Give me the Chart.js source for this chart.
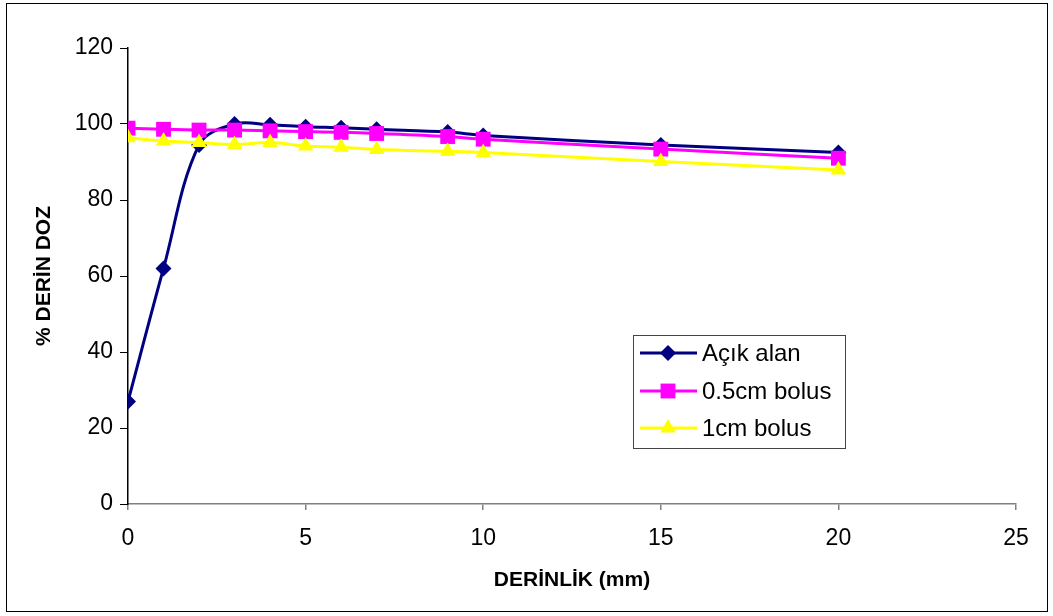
<!DOCTYPE html>
<html>
<head>
<meta charset="utf-8">
<script src="https://cdn.jsdelivr.net/npm/chart.js@4"></script>
<style>
  html, body { margin: 0; padding: 0; background: #fff; }
  #wrap { width: 1053px; height: 616px; }
</style>
</head>
<body>
<div id="wrap"><canvas id="doseChart" width="1053" height="616"></canvas></div>
<script>
// === DATA ===
const depth = [0, 1, 2, 3, 4, 5, 6, 7, 9, 10, 15, 20];
const openField = [27, 62, 94.5, 100, 99.8, 99.3, 99, 98.6, 97.9, 97, 94.5, 92.5];
const bolus05 = [98.9, 98.6, 98.4, 98.4, 98.2, 98, 97.8, 97.5, 96.7, 96, 93.4, 91];
const bolus1 = [96.4, 95.5, 95.1, 94.6, 95.1, 94.2, 93.9, 93.3, 92.8, 92.5, 90.1, 87.9];
const seriesNames = ['Açık alan', '0.5cm bolus', '1cm bolus'];
const xTicks = [0, 5, 10, 15, 20, 25];
const yTicks = [0, 20, 40, 60, 80, 100, 120];

Chart.defaults.font.family = "'Liberation Sans', Arial, sans-serif";
Chart.defaults.color = '#000';

const toPoints = (vals) => vals.map((v, i) => ({ x: depth[i], y: v }));

// === MARKER DRAWING (legend) ===
function drawMarker(ctx, style, r, x, y, color) {
  ctx.fillStyle = color;
  ctx.beginPath();
  if (style === 'rectRot') {
    ctx.moveTo(x, y - r); ctx.lineTo(x + r, y); ctx.lineTo(x, y + r); ctx.lineTo(x - r, y);
  } else if (style === 'rect') {
    const s = r / Math.SQRT2;
    ctx.rect(x - s, y - s, 2 * s, 2 * s);
  } else {
    ctx.moveTo(x, y - r);
    ctx.lineTo(x + r * Math.sin(Math.PI / 3), y + r / 2);
    ctx.lineTo(x - r * Math.sin(Math.PI / 3), y + r / 2);
  }
  ctx.closePath();
  ctx.fill();
}

const frameAndLegend = {
  id: 'frameAndLegend',
  afterDraw(chart) {
    const ctx = chart.ctx;
    ctx.save();
    // outer frame
    ctx.strokeStyle = '#000';
    ctx.lineWidth = 1;
    ctx.strokeRect(6.5, 3.5, 1041, 608);
    // legend box
    ctx.fillStyle = '#fff';
    ctx.fillRect(633, 335, 212, 113);
    ctx.strokeStyle = '#444';
    ctx.strokeRect(633.5, 335.5, 212, 113);
    const rows = [353, 391, 428];
    chart.data.datasets.forEach((ds, i) => {
      const y = rows[i];
      ctx.strokeStyle = ds.borderColor;
      ctx.lineWidth = 3;
      ctx.beginPath();
      ctx.moveTo(640, y);
      ctx.lineTo(697, y);
      ctx.stroke();
      drawMarker(ctx, ds.pointStyle, ds.pointRadius, 668, y, ds.pointBackgroundColor);
      ctx.fillStyle = '#000';
      ctx.font = "24px 'Liberation Sans', Arial, sans-serif";
      ctx.textBaseline = 'middle';
      ctx.textAlign = 'left';
      ctx.fillText(seriesNames[i], 702, y + 1);
    });
    ctx.restore();
  }
};

// === CHART ===
const ctx = document.getElementById('doseChart');
new Chart(ctx, {
  type: 'scatter',
  data: {
    datasets: [{
      label: seriesNames[0],
      data: toPoints(openField),
      showLine: true,
      borderColor: '#000080',
      pointBackgroundColor: '#000080',
      pointBorderWidth: 0,
      borderWidth: 3,
      pointStyle: 'rectRot',
      pointRadius: 8,
      tension: 0.35,
      order: 3
    }, {
      label: seriesNames[1],
      data: toPoints(bolus05),
      showLine: true,
      borderColor: '#ff00ff',
      pointBackgroundColor: '#ff00ff',
      pointBorderWidth: 0,
      borderWidth: 3,
      pointStyle: 'rect',
      pointRadius: 10.5,
      tension: 0.35,
      order: 2
    }, {
      label: seriesNames[2],
      data: toPoints(bolus1),
      showLine: true,
      borderColor: '#ffff00',
      pointBackgroundColor: '#ffff00',
      pointBorderWidth: 0,
      borderWidth: 3,
      pointStyle: 'triangle',
      pointRadius: 9,
      tension: 0.35,
      order: 1
    }]
  },
  options: {
    responsive: false,
    animation: false,
    layout: { padding: { top: 48, right: 37, left: 0, bottom: 0 } },
    plugins: { legend: { display: false }, tooltip: { enabled: false } },
    scales: {
      x: {
        type: 'linear',
        min: 0,
        max: 25,
        afterBuildTicks: (s) => { s.ticks = xTicks.map(v => ({ value: v })); },
        afterFit: (s) => { s.height = 112; },
        grid: { drawOnChartArea: false, tickLength: 6, color: '#808080', lineWidth: 1.5 },
        border: { color: '#808080', width: 1.5 },
        ticks: { font: { size: 23 }, padding: 15, maxRotation: 0 },
        title: {
          display: true,
          text: 'DERİNLİK (mm)',
          font: { size: 21, weight: 'bold' },
          padding: { top: 0, bottom: 23 }
        }
      },
      y: {
        min: 0,
        max: 120,
        afterBuildTicks: (s) => { s.ticks = yTicks.map(v => ({ value: v })); },
        afterFit: (s) => { s.width = 128; },
        grid: { drawOnChartArea: false, tickLength: 8, color: '#000' },
        border: { color: '#000', width: 1.5 },
        ticks: { font: { size: 23 }, padding: 7 },
        title: {
          display: true,
          text: '% DERİN DOZ',
          font: { size: 21, weight: 'bold' },
          padding: { top: 32, bottom: 0 }
        }
      }
    }
  },
  plugins: [frameAndLegend]
});
</script>
</body>
</html>
